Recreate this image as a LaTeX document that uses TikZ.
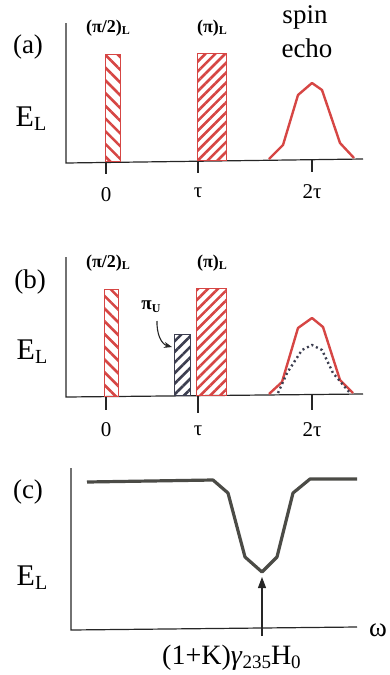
\documentclass[tikz,border=0pt]{standalone}
\usepackage{fontspec}
\setmainfont{Liberation Serif}
\usetikzlibrary{patterns.meta,arrows.meta}
\definecolor{hred}{RGB}{214,70,68}
\definecolor{hdark}{RGB}{60,62,80}
\definecolor{cgray}{RGB}{75,75,70}
\newcommand{\mysub}[3]{{\fontsize{#1}{#1}\selectfont\raisebox{#2}{#3}}}
\begin{document}
\begin{tikzpicture}[x=1pt,y=-1pt,
  axis/.style={line width=1.2pt,black!85},
  tickmark/.style={line width=1.2pt,black!85},
  bigtxt/.style={font=\fontsize{27}{30}\selectfont,inner sep=0pt},
  elab/.style={font=\fontsize{30}{32}\selectfont,inner sep=0pt},
  ticklab/.style={font=\fontsize{21}{24}\selectfont,inner sep=0pt},
  pulselab/.style={font=\fontsize{18}{20}\selectfont\bfseries,inner sep=0pt},
  barA/.style={draw=hred,line width=1.3pt,inner sep=0pt,anchor=south west,
    pattern={Lines[angle=-45,distance=9pt,line width=2.6pt]},pattern color=hred},
  barB/.style={draw=hred,line width=1.3pt,inner sep=0pt,anchor=south west,
    pattern={Lines[angle=45,distance=7pt,line width=2.6pt]},pattern color=hred},
  barU/.style={draw=hdark,line width=1.3pt,inner sep=0pt,anchor=south west,
    pattern={Lines[angle=45,distance=7.5pt,line width=2.6pt]},pattern color=hdark},
  echo/.style={draw=hred,line width=2.4pt,line join=round},
  dotecho/.style={draw=hdark,line width=2.4pt,dash pattern=on 2pt off 3pt},
  dip/.style={draw=cgray,line width=3.2pt,line join=round}
]
\useasboundingbox (0,0) rectangle (390,675);

% ---------- panel (a) ----------
\draw[axis] (66,23) -- (66,163) -- (363,159);
\draw[tickmark] (106,162) -- (106,174);
\draw[tickmark] (198,161) -- (198,173);
\draw[tickmark] (312,160) -- (312,172);
\node[ticklab] (a0) at (106,195) {0};
\node[ticklab] (atau) at (198,193) {τ};
\node[ticklab] (a2tau) at (312,192) {2τ};
\node[barA,minimum width=15pt,minimum height=107pt] (a1) at (104,163) {};
\node[barB,minimum width=29pt,minimum height=107pt] (a2) at (196,162) {};
\draw[echo] (269,159) -- (283,145) -- (298,95) -- (312,83) -- (322,90) -- (340,143) -- (354,158);
\node[pulselab] (ap1) at (108,28) {(π/2)\mysub{12}{-2pt}{L}};
\node[pulselab] (ap2) at (212,28) {(π)\mysub{12}{-2pt}{L}};
\node[bigtxt] (spin) at (305,17) {spin};
\node[bigtxt] (echoA) at (307,48) {echo};
\node[bigtxt] (la) at (28,47) {(a)};
\node[elab] (ea) at (31,119) {E\mysub{20}{-4pt}{L}};

% ---------- panel (b) ----------
\draw[axis] (66,257) -- (66,397) -- (363,394);
\draw[tickmark] (106,396) -- (106,410);
\draw[tickmark] (198,395) -- (198,413);
\draw[tickmark] (312,394) -- (312,410);
\node[ticklab] (b0) at (106,430) {0};
\node[ticklab] (btau) at (198,431) {τ};
\node[ticklab] (b2tau) at (312,430) {2τ};
\node[barA,minimum width=14pt,minimum height=107pt] (b1) at (104,397) {};
\node[barU,minimum width=16pt,minimum height=61pt] (bu) at (173,397) {};
\node[barB,minimum width=30pt,minimum height=107pt] (b2) at (196,396) {};
\draw[echo] (269,394) -- (282,382) -- (298,328) -- (312,318) -- (323,327) -- (340,380) -- (353,393);
\draw[dotecho] (278,393) -- (287,373) -- (302,350) -- (312,345) -- (322,350) -- (333,373) -- (350,393);
\node[pulselab] (bp1) at (108,263) {(π/2)\mysub{12}{-2pt}{L}};
\node[pulselab] (bp2) at (212,263) {(π)\mysub{12}{-2pt}{L}};
\node[pulselab,font=\fontsize{19}{20}\selectfont\bfseries] (piu) at (151,307) {π\mysub{12}{-3pt}{U}};
\coordinate (piustart) at (157,321);
\coordinate (piuend) at (172,347);
\draw[line width=1.1pt,black!85,-{Stealth[length=8pt,width=6pt]}] (piustart) to[out=-92,in=165] (piuend);
\node[bigtxt] (lb) at (30,282) {(b)};
\node[elab] (eb) at (32,352) {E\mysub{20}{-4pt}{L}};

% ---------- panel (c) ----------
\draw[axis] (71,468) -- (71,630) -- (357,627);
\node[bigtxt] (omega) at (378,630) {ω};
\draw[dip] (87,482) -- (213,480) -- (228,493) -- (245,557) -- (262,572) -- (277,557) -- (293,493) -- (310,479) -- (357,479);
\node[bigtxt,font=\fontsize{28}{30}\selectfont,anchor=base west] (freq) at (162,664) {(1+K)\textit{γ}\mysub{19}{-4pt}{235}H\mysub{19}{-4pt}{0}};
\coordinate (arrstart) at (262,636);
\coordinate (dippt) at (262,577);
\draw[line width=1.1pt,black!85,-{Triangle[length=11pt,width=8pt]}] (arrstart) -- (dippt);
\node[bigtxt] (lc) at (28,492) {(c)};
\node[elab] (ec) at (32,578) {E\mysub{20}{-4pt}{L}};
\end{tikzpicture}
\end{document}
